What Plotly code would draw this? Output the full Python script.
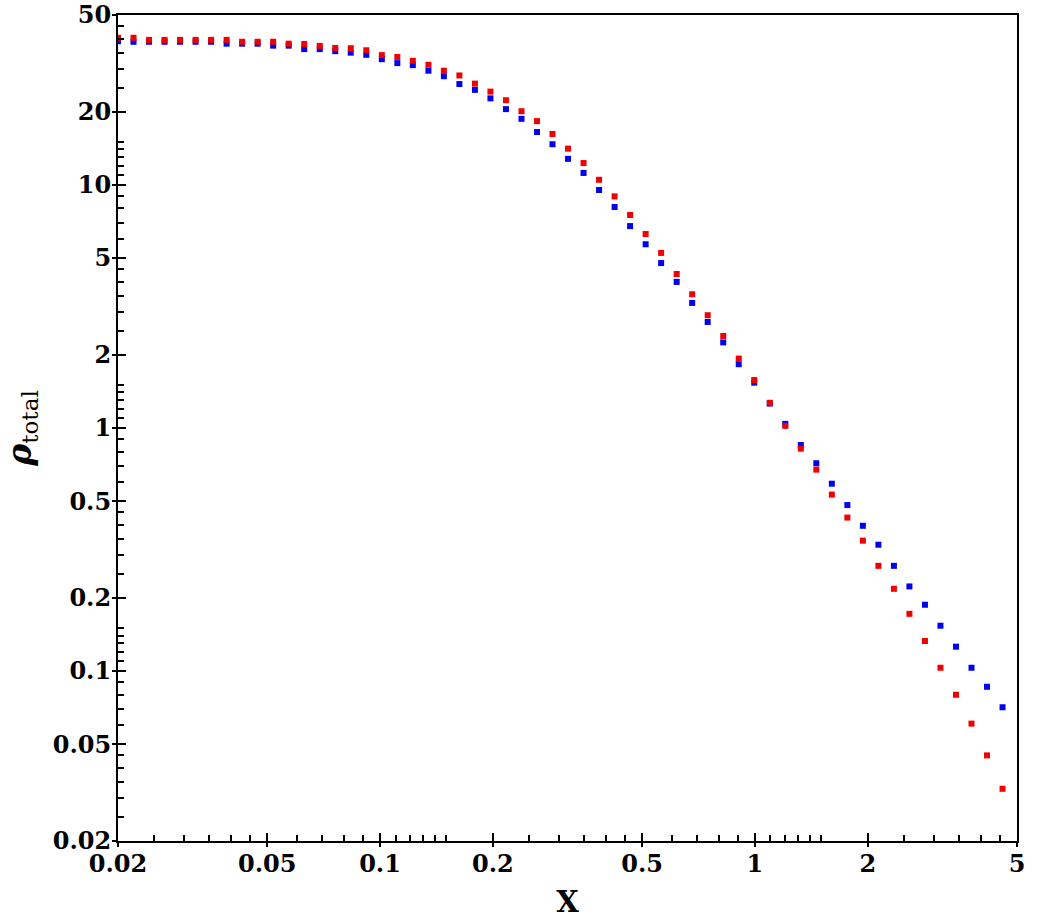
import math
import plotly.graph_objects as go

# x grid (same for both series)
x_vals = [0.02, 0.022, 0.0242, 0.02662, 0.02928, 0.03221, 0.03543, 0.03897, 0.04287, 0.04716,
          0.05187, 0.05706, 0.06277, 0.06904, 0.07595, 0.08354, 0.0919, 0.1011, 0.1112, 0.1223,
          0.1346, 0.148, 0.1628, 0.1791, 0.197, 0.2167, 0.2384, 0.2622, 0.2884, 0.3173,
          0.349, 0.3839, 0.4223, 0.4645, 0.511, 0.562, 0.6183, 0.6801, 0.7481, 0.8229,
          0.9052, 0.9957, 1.0953, 1.2048, 1.3253, 1.4578, 1.6036, 1.764, 1.9403, 2.1344,
          2.3478, 2.5826, 2.8409, 3.1249, 3.4374, 3.7812, 4.1593, 4.5752]

red_vals = [40.3, 40.3, 39.5, 39.5, 39.5, 39.5, 39.5, 39.5, 38.8, 38.8,
            38.8, 38.1, 38.0, 37.3, 36.6, 36.5, 35.8, 34.2, 33.6, 32.4,
            31.2, 29.5, 28.2, 26.1, 24.2, 22.3, 20.1, 18.3, 16.2, 14.1,
            12.3, 10.5, 8.97, 7.52, 6.28, 5.25, 4.30, 3.55, 2.91, 2.39,
            1.93, 1.575, 1.27, 1.02, 0.822, 0.674, 0.532, 0.428, 0.344, 0.271,
            0.218, 0.172, 0.133, 0.1032, 0.0799, 0.0608, 0.0450, 0.0328]

blue_vals = [39.0, 38.8, 38.8, 38.8, 38.8, 38.8, 38.8, 38.1, 38.1, 38.1,
             37.4, 37.4, 36.2, 36.2, 35.5, 35.0, 34.3, 32.9, 31.7, 31.1,
             29.5, 28.0, 26.0, 24.6, 22.7, 20.5, 18.7, 16.5, 14.7, 12.8,
             11.2, 9.53, 8.11, 6.77, 5.70, 4.77, 3.99, 3.27, 2.73, 2.25,
             1.83, 1.536, 1.26, 1.04, 0.851, 0.716, 0.590, 0.482, 0.396, 0.331,
             0.271, 0.223, 0.1875, 0.1537, 0.1260, 0.1032, 0.0862, 0.0710]

x_major = [0.02, 0.05, 0.1, 0.2, 0.5, 1, 2, 5]
x_major_text = ["0.02", "0.05", "0.1", "0.2", "0.5", "1", "2", "5"]
y_major = [0.02, 0.05, 0.1, 0.2, 0.5, 1, 2, 5, 10, 20, 50]
y_major_text = ["0.02", "0.05", "0.1", "0.2", "0.5", "1", "2", "5", "10", "20", "50"]

minor_mult = [1.1, 1.2, 1.3, 1.4, 1.5, 2.5, 3, 3.5, 4, 4.5, 6, 7, 8, 9]
decades = [0.01, 0.1, 1, 10]
minor_all = [round(m * d, 6) for d in decades for m in minor_mult]
x_minor = [v for v in minor_all if 0.02 < v < 5]
y_minor = [v for v in minor_all if 0.02 < v < 50]

font_family = "DejaVu Serif"

fig = go.Figure()
fig.add_trace(go.Scatter(x=x_vals, y=blue_vals, mode="markers",
                         marker=dict(symbol="square", size=6, color="#0000f0", line=dict(width=0)),
                         showlegend=False))
fig.add_trace(go.Scatter(x=x_vals, y=red_vals, mode="markers",
                         marker=dict(symbol="square", size=6, color="#f00000", line=dict(width=0)),
                         showlegend=False))
# invisible trace tied to the overlay axes (outer part of the major ticks)
fig.add_trace(go.Scatter(x=[0.1], y=[1], xaxis="x2", yaxis="y2", showlegend=False,
                         mode="markers", marker=dict(opacity=0), hoverinfo="skip"))

xr = [math.log10(0.02), math.log10(5)]
yr = [math.log10(0.02), math.log10(50)]

tickfont = dict(family=font_family, size=24, color="black", weight="bold")

fig.update_layout(
    width=1055, height=919,
    margin=dict(l=118, r=38, t=15, b=78),
    paper_bgcolor="white", plot_bgcolor="white",
    font=dict(family=font_family, color="black"),
    xaxis=dict(type="log", range=xr, showgrid=False, zeroline=False, automargin=False,
               showline=True, linecolor="black", linewidth=2, mirror=True,
               tickmode="array", tickvals=x_major, ticktext=x_major_text,
               ticks="inside", ticklen=8, tickwidth=2, tickcolor="black",
               tickfont=tickfont,
               minor=dict(tickmode="array", tickvals=x_minor, ticks="inside",
                          ticklen=6, tickwidth=1.5, tickcolor="black", showgrid=False),
               title=dict(text="<b>X</b>", font=dict(family=font_family, size=29, color="black"),
                          standoff=19)),
    yaxis=dict(type="log", range=yr, showgrid=False, zeroline=False, automargin=False,
               showline=True, linecolor="black", linewidth=2, mirror=True,
               tickmode="array", tickvals=y_major, ticktext=y_major_text,
               ticks="inside", ticklen=8, tickwidth=2, tickcolor="black",
               tickfont=tickfont,
               minor=dict(tickmode="array", tickvals=y_minor, ticks="inside",
                          ticklen=6, tickwidth=1.5, tickcolor="black", showgrid=False),
               title=dict(text="<b><i>ρ</i></b><sub>total</sub>",
                          font=dict(family=font_family, size=33, color="black"),
                          standoff=14)),
    xaxis2=dict(type="log", range=xr, overlaying="x", anchor="y", side="bottom",
                showgrid=False, zeroline=False, showline=False, automargin=False,
                tickmode="array", tickvals=x_major, ticks="outside", ticklen=5,
                tickwidth=2, tickcolor="black", showticklabels=False),
    yaxis2=dict(type="log", range=yr, overlaying="y", anchor="x", side="left",
                showgrid=False, zeroline=False, showline=False, automargin=False,
                tickmode="array", tickvals=y_major, ticks="outside", ticklen=5,
                tickwidth=2, tickcolor="black", showticklabels=False),
)

fig.write_html("out.html")
